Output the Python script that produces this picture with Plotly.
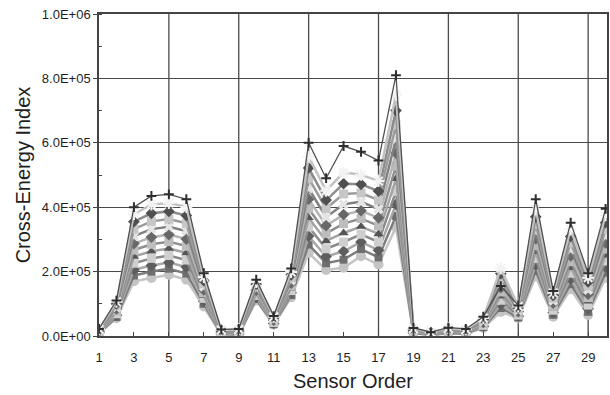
import plotly.graph_objects as go

sensor_order = list(range(1, 31))

# Cross-energy index values (in thousands)
s_top = [22, 110, 400, 435, 440, 425, 195, 20, 22, 175, 62, 210, 600, 490, 590, 572, 545, 810, 25, 12, 26, 22, 60, 155, 95, 425, 140, 352, 195, 395]
s_93 = [21, 106, 379, 408, 413, 401, 183, 19, 21, 168, 60, 199, 557, 451, 508, 501, 481, 749, 23, 11, 24, 20, 56, 210, 92, 394, 134, 331, 181, 375]
s_82 = [19, 100, 355, 381, 387, 374, 172, 17, 19, 161, 57, 190, 522, 422, 473, 471, 450, 700, 21, 10, 22, 18, 52, 194, 88, 370, 126, 309, 168, 352]
s_72 = [18, 95, 332, 356, 363, 350, 163, 16, 17, 155, 54, 181, 490, 396, 441, 444, 422, 656, 20, 9, 20, 17, 49, 179, 84, 347, 118, 289, 155, 331]
s_62 = [17, 89, 310, 332, 339, 326, 153, 14, 15, 148, 52, 173, 458, 369, 409, 417, 394, 612, 18, 9, 19, 16, 45, 165, 80, 325, 110, 269, 143, 310]
s_52 = [15, 84, 287, 307, 315, 301, 143, 13, 13, 142, 49, 164, 425, 343, 377, 389, 367, 568, 16, 8, 17, 14, 42, 150, 76, 302, 102, 249, 130, 289]
s_43 = [14, 79, 267, 285, 293, 279, 134, 11, 12, 137, 47, 157, 396, 319, 349, 365, 342, 528, 15, 7, 15, 13, 39, 137, 72, 282, 94, 231, 119, 270]
s_34 = [13, 74, 247, 263, 272, 258, 125, 10, 10, 131, 44, 149, 367, 295, 320, 340, 317, 488, 13, 6, 14, 12, 36, 124, 69, 262, 87, 213, 108, 251]
s_25 = [12, 69, 226, 241, 250, 236, 117, 9, 9, 126, 42, 141, 339, 271, 292, 316, 292, 449, 12, 5, 12, 11, 33, 111, 65, 241, 80, 195, 96, 233]
s_16 = [10, 64, 206, 219, 228, 214, 108, 7, 7, 120, 39, 134, 310, 247, 263, 292, 266, 409, 11, 4, 11, 9, 30, 98, 61, 221, 73, 177, 85, 214]
s_08 = [9, 59, 188, 200, 209, 194, 100, 6, 5, 115, 37, 127, 284, 226, 237, 270, 244, 373, 9, 4, 9, 8, 28, 87, 58, 203, 66, 161, 75, 197]
s_bot = [8, 55, 170, 180, 190, 175, 92, 5, 4, 110, 35, 120, 258, 205, 212, 248, 222, 338, 8, 3, 8, 7, 25, 75, 55, 185, 60, 145, 65, 180]

y_tick_vals = [0, 200000, 400000, 600000, 800000, 1000000]
y_tick_text = ["0.0E+00", "2.0E+05", "4.0E+05", "6.0E+05", "8.0E+05", "1.0E+06"]
x_tick_vals = list(range(1, 30, 2))
x_grid_vals = [5, 9, 13, 17, 21, 25, 29]

# (series, line colour, marker symbol, marker colour, marker size, line width)
series = [
    (s_bot, "#c4c4c4", "circle", "#c4c4c4", 10, 2.5),
    (s_08, "#7c7c7c", "square", "#6e6e6e", 8, 2.5),
    (s_16, "#a8a8a8", "diamond", "#5e5e5e", 9, 2.5),
    (s_25, "#8a8a8a", "square", "#cfcfcf", 9, 2.5),
    (s_34, "#a4a4a4", "triangle-up", "#555555", 9, 2.5),
    (s_43, "#8e8e8e", "square", "#bdbdbd", 9, 2.5),
    (s_52, "#b4b4b4", "diamond", "#686868", 9, 2.5),
    (s_62, "#808080", "x", "#e4e4e4", 9, 2.5),
    (s_72, "#9c9c9c", "square", "#c6c6c6", 9, 2.5),
    (s_82, "#8c8c8c", "diamond", "#505050", 9, 2.5),
    (s_93, "#c2c2c2", "asterisk-open", "#f2f2f2", 10, 2.5),
    (s_top, "#505050", "cross-thin-open", "#2e2e2e", 7, 1.3),
]

fig = go.Figure()
for vals, lc, sym, mc, ms, lw in series:
    open_sym = sym.endswith("-open")
    fig.add_trace(go.Scatter(
        x=sensor_order,
        y=[v * 1000 for v in vals],
        mode="lines+markers",
        line=dict(color=lc, width=lw),
        marker=dict(symbol=sym, size=ms, color=mc,
                    line=dict(color=mc, width=2 if open_sym else 0)),
        showlegend=False,
    ))

for gx in x_grid_vals:
    fig.add_shape(type="line", xref="x", yref="paper", x0=gx, x1=gx, y0=0, y1=1,
                  line=dict(color="#4a4a4a", width=1.3), layer="below")

font_family = "Liberation Sans, Arial, sans-serif"
fig.update_layout(
    width=610, height=395,
    margin=dict(l=99, r=1, t=14, b=59),
    paper_bgcolor="white", plot_bgcolor="white",
    font=dict(family=font_family, color="#1e1e1e", size=13),
    xaxis=dict(
        range=[1, 30.08],
        tickmode="array", tickvals=x_tick_vals, ticktext=[str(v) for v in x_tick_vals],
        ticks="inside", ticklen=4, tickcolor="#444444",
        ticklabelstandoff=9,
        showgrid=False, zeroline=False,
        showline=True, linecolor="#444444", linewidth=1.5, mirror=True,
        title=dict(text="Sensor Order", font=dict(size=20, color="#1e1e1e"), standoff=10),
        tickfont=dict(size=13),
    ),
    yaxis=dict(
        range=[0, 1000000],
        tickmode="array", tickvals=y_tick_vals, ticktext=y_tick_text,
        ticks="outside", ticklen=4, tickcolor="#444444",
        showgrid=True, gridcolor="#4a4a4a", gridwidth=1.3, zeroline=False,
        showline=True, linecolor="#444444", linewidth=1.5, mirror=True,
        minor=dict(tickmode="linear", tick0=0, dtick=100000, ticks="inside", ticklen=3,
                   tickcolor="#444444", showgrid=False),
        title=dict(text="Cross-Energy Index", font=dict(size=20, color="#1e1e1e"), standoff=6),
        tickfont=dict(size=13),
    ),
)

fig.write_html("out.html")
